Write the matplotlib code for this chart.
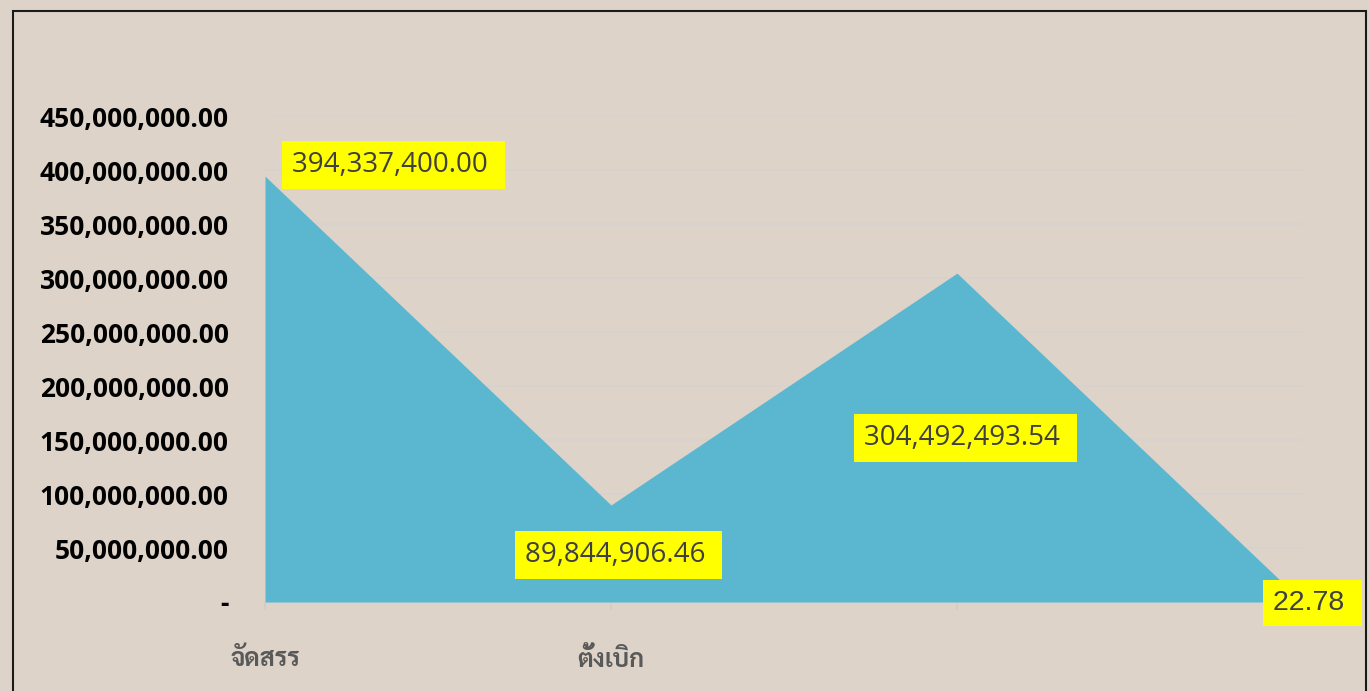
'''
Area chart of budget amounts (allocated vs. disbursed).
'''

import matplotlib
matplotlib.use('Agg')
import matplotlib.pyplot as plt
import matplotlib.patches as mpatches

categories = ['จัดสรร', 'ตั้งเบิก', '', '']
values = [394337400.00, 89844906.46, 304492493.54, 22.78]
value_labels = ['394,337,400.00', '89,844,906.46', '304,492,493.54', '22.78']
yticks = [0, 50e6, 100e6, 150e6, 200e6, 250e6, 300e6, 350e6, 400e6, 450e6]

bg = '#ddd3c9'
area_col = '#5bb7d0'

fig = plt.figure(figsize=(13.7, 6.91), dpi=100, facecolor=bg)
ax = fig.add_axes([265/1370, 1 - 602/691, (1303 - 265)/1370, (602 - 116)/691])
ax.set_facecolor(bg)

x = list(range(len(values)))
ax.fill_between(x, values, 0, color=area_col, linewidth=0, zorder=3)

ax.set_xlim(0, 3)
ax.set_ylim(0, 450e6)
ax.set_yticks(yticks)
ax.set_yticklabels(['-' if v == 0 else '{:,.2f}'.format(v) for v in yticks],
                   fontsize=19, fontweight='bold', family=['Open Sans', 'DejaVu Sans'])
ax.tick_params(axis='y', length=0, pad=26, colors='black')
ax.set_xticks(x[:3])
ax.set_xticklabels(categories[:3], fontsize=18, fontweight='bold', color='#595959',
                   family=['Sarabun', 'DejaVu Sans'])
ax.tick_params(axis='x', length=6, width=1.2, color='#d0ccc8', pad=27)

ax.grid(axis='y', color='#d6d2ce', linewidth=1.2, zorder=1)
for s in ['top', 'right', 'left']:
    ax.spines[s].set_visible(False)
ax.spines['bottom'].set_color('#d6d2ce')
ax.spines['bottom'].set_linewidth(1.2)

# offsets in pixels: left edge of text relative to the point
offsets = [(27, 11), (-86, -50), (-93, -165), (-30, -1)]
for i, (v, lab) in enumerate(zip(values, value_labels)):
    if i == 3:
        fam, fs = ['Liberation Sans'], 20.5
    else:
        fam, fs = ['Open Sans', 'DejaVu Sans'], 20
    ax.annotate(lab + ' ', xy=(i, v), xytext=offsets[i], textcoords='offset pixels',
                ha='left', va='center', fontsize=fs, color='#404040', family=fam,
                bbox=dict(boxstyle='square,pad=0.35', facecolor='yellow', edgecolor='none'),
                zorder=5, annotation_clip=False)

border = mpatches.Rectangle((13/1370, -0.1), (1366 - 13)/1370, 1.1 - 11/691,
                            transform=fig.transFigure, fill=False,
                            edgecolor='#1a1a1a', linewidth=1.5)
fig.patches.append(border)

fig.savefig('out.png', dpi=100, facecolor=bg)
